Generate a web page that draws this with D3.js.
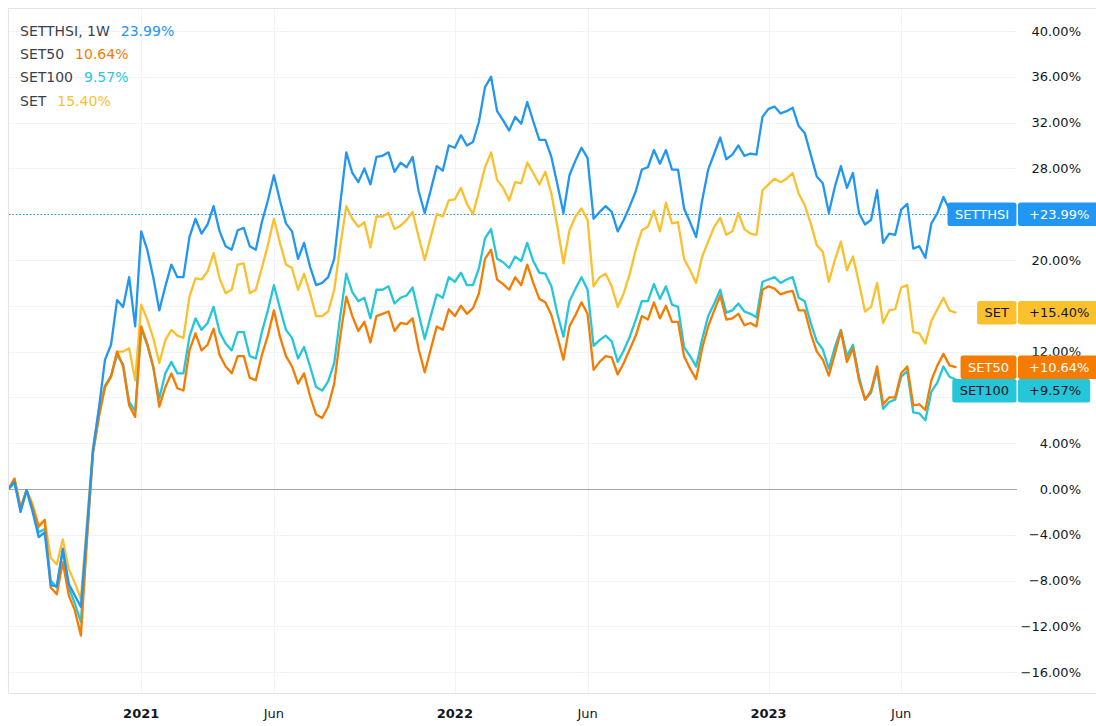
<!DOCTYPE html>
<html><head><meta charset="utf-8">
<script src="https://cdn.jsdelivr.net/npm/d3@7"></script>
<style>
html,body{margin:0;padding:0;background:#fff;overflow:hidden;}
svg{display:block;font-family:"DejaVu Sans",sans-serif;}
</style></head><body>
<svg id="chart" width="1096" height="726"></svg>
<script>
// ---- data (weekly % change since first bar) ----
const startDate = "2020-08-03";
const seriesNames = ["SETTHSI", "SET50", "SET100", "SET"];
const setthsi = [0,0.6,-2.0,-0.1,-2.0,-4.2,-3.8,-8.4,-8.5,-5.2,-8.3,-9.3,-10.3,-3.5,3.4,7.1,11.3,12.6,16.5,15.9,
18.5,14.2,22.5,20.9,18.5,15.6,17.7,19.6,18.5,18.5,22.0,23.6,22.3,23.1,24.7,22.5,21.2,20.9,22.6,22.8,
21.2,20.9,23.3,25.2,27.4,25.2,23.2,22.5,20.1,21.5,19.4,17.8,18.0,18.5,20.1,24.9,29.4,27.6,26.8,28.0,
26.6,29.0,29.1,29.4,27.7,28.5,28.1,29.0,26.0,24.1,26.1,28.2,27.8,30.0,29.8,30.9,30.0,30.3,32.1,35.1,
36.0,33.0,32.2,31.3,32.5,31.9,33.8,32.1,30.5,30.5,29.0,26.6,24.1,27.4,28.7,29.8,28.9,23.6,24.2,24.7,
24.2,22.5,23.5,24.7,26.0,27.9,28.1,29.6,28.4,29.6,27.9,27.9,24.5,23.3,22.0,25.2,27.9,29.3,30.7,28.8,
29.2,30.0,29.1,29.3,29.2,32.5,33.2,33.4,32.8,33.0,33.3,31.7,31.1,29.2,27.3,26.7,24.1,26.4,28.2,26.3,
27.6,24.1,23.1,23.5,26.1,21.5,22.3,22.2,24.4,24.9,21.0,21.2,20.2,23.2,24.1,25.5,24.4,23.99];
const set50 = [0,0.9,-1.7,-0.1,-1.6,-3.3,-2.7,-8.6,-9.2,-6.4,-9.3,-10.6,-12.8,-4.5,3.1,6.3,8.9,9.8,12.0,10.7,
7.3,6.3,14.2,12.7,10.7,7.2,8.9,10.1,8.8,8.6,12.1,13.6,12.1,12.6,14.0,11.7,10.7,10.1,11.6,11.6,
9.7,9.5,11.7,13.4,15.6,13.3,11.6,10.7,9.2,10.1,8.1,6.5,6.2,7.2,9.2,13.3,16.8,15.1,13.8,14.6,
12.8,15.1,15.3,15.5,13.8,14.5,14.4,14.9,12.2,10.2,12.2,14.2,13.9,15.7,15.1,16.0,15.3,15.8,17.1,20.1,
20.9,18.3,17.9,17.4,18.5,17.8,19.6,18.0,16.6,16.3,15.2,13.3,11.3,14.2,15.2,16.3,15.3,10.4,11.1,11.6,
11.5,10.0,11.0,12.2,13.4,15.1,14.8,16.3,14.9,16.0,14.6,14.6,11.6,10.5,9.6,12.3,14.2,15.6,16.9,14.8,
14.9,15.3,14.3,14.5,14.2,17.4,17.7,17.5,17.0,17.2,17.3,15.6,15.6,13.6,12.0,11.3,9.9,11.8,13.8,11.1,
12.3,9.5,7.8,8.6,10.7,7.4,8.0,8.0,10.1,10.7,7.3,7.4,6.9,9.5,10.8,11.8,10.8,10.64];
const set100 = [0,0.6,-1.8,-0.1,-1.8,-3.8,-3.5,-8.0,-8.6,-5.4,-8.6,-10.0,-11.6,-4.2,3.2,6.5,9.0,9.9,11.7,10.9,
7.6,6.8,14.0,12.6,10.6,7.9,10.1,11.1,10.1,10.1,13.3,14.9,13.9,14.5,15.9,13.7,12.7,12.1,13.7,13.7,
11.6,11.4,13.7,15.6,17.8,15.8,13.9,13.2,11.4,12.4,10.7,8.9,8.6,9.4,11.0,15.1,18.8,17.2,16.4,16.7,
14.9,17.4,17.4,17.7,16.2,16.7,16.9,17.6,15.3,13.1,15.1,17.0,16.7,18.5,18.1,18.9,17.8,17.8,19.3,21.9,
22.7,20.1,19.8,19.3,20.3,19.9,21.5,19.9,18.9,18.8,17.7,15.3,13.3,16.4,17.5,18.5,17.4,12.5,13.0,13.4,
12.9,11.1,12.1,13.3,14.8,16.4,16.4,17.9,16.6,17.7,16.1,15.9,12.4,11.6,10.7,13.1,15.1,16.2,17.4,15.4,
15.6,16.2,15.5,15.3,15.0,18.1,18.3,18.5,18.0,18.3,18.5,16.7,16.4,14.5,12.9,12.2,10.5,12.4,13.9,11.6,
12.6,9.8,7.8,8.4,10.4,7.0,7.6,7.8,9.8,10.3,6.7,6.6,6.0,8.5,9.3,10.7,9.8,9.57];
const setIdx = [0,0.9,-1.6,-0.1,-1.3,-3.2,-2.7,-6.0,-6.6,-4.4,-7.0,-8.2,-9.6,-3.0,3.5,7.0,9.0,9.8,12.0,12.0,
12.3,9.5,16.1,14.8,13.2,11.0,13.0,13.9,13.4,13.2,16.8,18.4,18.3,19.0,20.6,18.4,17.1,17.4,19.6,19.7,
17.1,17.4,19.3,21.3,23.6,21.5,19.6,19.3,17.4,18.8,17.1,15.1,15.1,15.5,17.4,21.2,24.7,23.6,22.9,23.3,
21.1,23.8,23.8,24.1,22.7,23.0,23.5,24.2,22.0,20.0,22.0,24.0,23.8,25.2,25.3,26.3,24.9,24.0,26.0,28.1,
29.4,27.0,26.3,25.2,26.8,26.7,28.5,27.6,26.6,27.7,25.8,22.9,19.7,22.6,23.8,24.5,23.5,17.7,18.5,18.8,
17.7,15.9,17.1,18.8,20.9,22.6,22.9,24.3,22.5,25.0,23.2,23.3,20.1,19.1,18.0,20.3,21.6,22.9,23.7,22.2,
22.5,24.1,22.7,22.3,22.2,26.1,26.6,27.1,26.8,27.1,27.6,25.8,24.8,23.2,21.3,20.7,18.1,20.0,21.6,19.1,
20.3,18.0,15.5,15.9,18.0,14.5,15.6,15.7,17.6,17.8,13.7,13.6,12.7,14.7,15.7,16.7,15.6,15.40];
const yTicks = [-16,-12,-8,-4,0,4,8,12,16,20,24,28,32,36,40];
const xTickDates = ["2021-01-04","2021-06-07","2022-01-03","2022-06-06","2023-01-02","2023-06-05"];
const xTickLabels = ["2021","Jun","2022","Jun","2023","Jun"];
const legendLabels = ["SETTHSI, 1W","SET50","SET100","SET"];

// ---- styles ----
const colors = {SETTHSI:"#2196f3", SET50:"#f57c00", SET100:"#26c6da", SET:"#fbc02d"};
const badgeText = {SETTHSI:"#ffffff", SET50:"#ffffff", SET100:"#131722", SET:"#131722"};

const W = 1096, H = 726;
const plot = {left: 9, right: 1017, top: 8, bottom: 693};
const parse = d3.utcParse("%Y-%m-%d");
const d0 = parse(startDate);

const seriesData = {SETTHSI: setthsi, SET50: set50, SET100: set100, SET: setIdx};
const dates = setthsi.map((_, i) => d3.utcMonday.offset(d0, i));

const x = d3.scaleUtc()
  .domain([d0, dates[dates.length - 1]])
  .range([8.5, 955.5]);
const y = d3.scaleLinear().domain([-16, 40]).range([672.2, 31]);

const svg = d3.select("#chart");
svg.append("rect").attr("width", W).attr("height", H).attr("fill", "#fff");

const defs = svg.append("defs");
defs.append("clipPath").attr("id", "clip").append("rect")
  .attr("x", plot.left).attr("y", plot.top)
  .attr("width", plot.right - plot.left).attr("height", plot.bottom - plot.top);

// grid
const grid = svg.append("g");
grid.selectAll("line.h").data(yTicks.filter(d => d !== 0)).join("line")
  .attr("x1", plot.left).attr("x2", plot.right)
  .attr("y1", d => Math.round(y(d)) + 0.5).attr("y2", d => Math.round(y(d)) + 0.5)
  .attr("stroke", "#f0f3fa").attr("stroke-width", 1);
grid.selectAll("line.v").data(xTickDates).join("line")
  .attr("x1", d => Math.round(x(parse(d))) + 0.5).attr("x2", d => Math.round(x(parse(d))) + 0.5)
  .attr("y1", plot.top).attr("y2", plot.bottom)
  .attr("stroke", "#f0f3fa").attr("stroke-width", 1);

// zero line
svg.append("line")
  .attr("x1", plot.left).attr("x2", plot.right)
  .attr("y1", Math.round(y(0)) + 0.5).attr("y2", Math.round(y(0)) + 0.5)
  .attr("stroke", "#a3a6af").attr("stroke-width", 1);

// dotted last value line for main series
const lastMain = setthsi[setthsi.length - 1];
svg.append("line")
  .attr("x1", plot.left).attr("x2", plot.right)
  .attr("y1", Math.round(y(lastMain)) + 0.5).attr("y2", Math.round(y(lastMain)) + 0.5)
  .attr("stroke", colors.SETTHSI).attr("stroke-width", 1)
  .attr("stroke-dasharray", "1.5,2");

// lines
const line = d3.line().x((d, i) => x(dates[i])).y(d => y(d));
const lineG = svg.append("g").attr("clip-path", "url(#clip)");
["SET", "SET100", "SET50", "SETTHSI"].forEach(name => {
  lineG.append("path").datum(seriesData[name])
    .attr("d", line)
    .attr("fill", "none")
    .attr("stroke", colors[name])
    .attr("stroke-width", 2.3)
    .attr("stroke-linejoin", "round")
    .attr("stroke-linecap", "round");
});

// borders
svg.append("line").attr("x1", plot.left - 0.5).attr("x2", W).attr("y1", plot.top + 0.5).attr("y2", plot.top + 0.5)
  .attr("stroke", "#e0e3eb");
svg.append("line").attr("x1", plot.left - 0.5).attr("x2", plot.left - 0.5).attr("y1", plot.top).attr("y2", plot.bottom)
  .attr("stroke", "#e0e3eb");
svg.append("line").attr("x1", plot.left - 0.5).attr("x2", W).attr("y1", plot.bottom + 0.5).attr("y2", plot.bottom + 0.5)
  .attr("stroke", "#e0e3eb");

// right badges layout (computed first so hidden axis labels can be skipped)
const badgeH = 23.5;
const badges = seriesNames.map(name => {
  const vals = seriesData[name];
  const v = vals[vals.length - 1];
  return {name, v, cy: y(v)};
}).sort((a, b) => a.cy - b.cy);
for (let i = 1; i < badges.length; i++) {
  if (badges[i].cy < badges[i - 1].cy + badgeH) badges[i].cy = badges[i - 1].cy + badgeH;
}
const hiddenByBadge = t => badges.some(b => Math.abs(y(t) - b.cy) < badgeH / 2 - 5);

// y axis labels (right)
const fmtY = d => (d < 0 ? "\u2212" : "") + d3.format(".2f")(Math.abs(d)) + "%";
svg.append("g").selectAll("text").data(yTicks.filter(t => !hiddenByBadge(t))).join("text")
  .attr("x", 1081).attr("y", d => y(d)).attr("dy", "0.35em")
  .attr("text-anchor", "end").attr("font-size", 13).attr("fill", "#131722")
  .text(fmtY);

// x axis labels
svg.append("g").selectAll("text").data(xTickDates).join("text")
  .attr("x", d => x(parse(d))).attr("y", 713).attr("dy", "0.35em")
  .attr("text-anchor", "middle").attr("font-size", 13)
  .attr("font-weight", (d, i) => /^\d{4}$/.test(xTickLabels[i]) ? "bold" : "normal")
  .attr("fill", "#131722")
  .text((d, i) => xTickLabels[i]);

// legend
const legend = svg.append("g");
seriesNames.forEach((name, i) => {
  const cy = 31 + i * 23.2;
  const t = legend.append("text").attr("x", 20).attr("y", cy).attr("dy", "0.35em")
    .attr("font-size", 14).attr("fill", "#3b3f4a").text(legendLabels[i]);
  const w = t.node().getComputedTextLength();
  const vals = seriesData[name];
  legend.append("text").attr("x", 20 + w + 11).attr("y", cy).attr("dy", "0.35em")
    .attr("font-size", 14).attr("fill", colors[name])
    .text(d3.format(".2f")(vals[vals.length - 1]) + "%");
});

// right badges
const bg = svg.append("g");
badges.forEach(b => {
  const g = bg.append("g");
  const nameRect = g.append("rect");
  const nameText = g.append("text").attr("font-size", 13).attr("fill", badgeText[b.name])
    .attr("y", b.cy).attr("dy", "0.36em").attr("text-anchor", "middle").text(b.name);
  const nw = nameText.node().getComputedTextLength();
  const boxW = nw + 15;
  nameRect.attr("x", 1016.5 - boxW).attr("y", b.cy - badgeH / 2).attr("width", boxW).attr("height", badgeH)
    .attr("rx", 2.5).attr("fill", colors[b.name]);
  nameText.attr("x", 1016.5 - boxW / 2);
  const valRect = g.append("rect");
  const valText = g.append("text").attr("font-size", 13).attr("fill", badgeText[b.name])
    .attr("x", 1029).attr("y", b.cy).attr("dy", "0.36em")
    .text("+" + d3.format(".2f")(b.v) + "%");
  const vw = valText.node().getComputedTextLength();
  valRect.attr("x", 1018).attr("y", b.cy - badgeH / 2).attr("width", vw + 20).attr("height", badgeH)
    .attr("rx", 2.5).attr("fill", colors[b.name]);
});
</script>
</body></html>
